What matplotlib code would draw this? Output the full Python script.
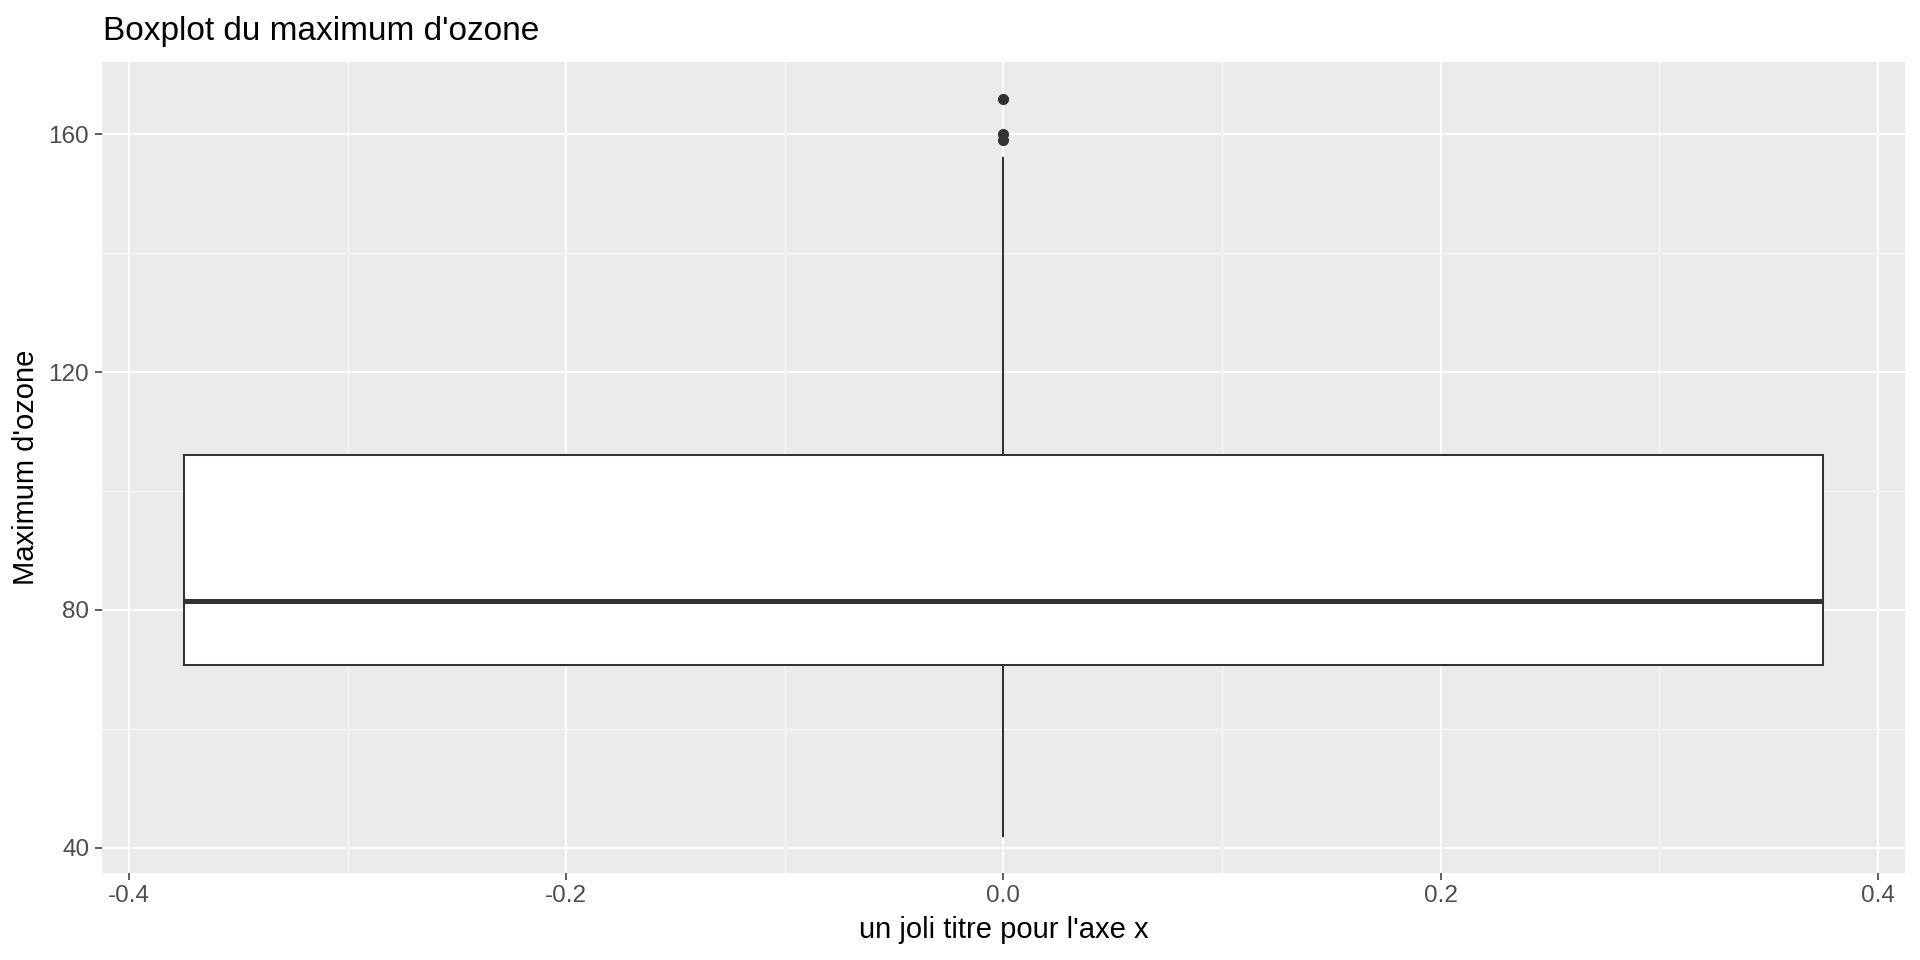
import matplotlib
matplotlib.use("Agg")
import matplotlib.pyplot as plt
import numpy as np

# summary of maxO3 (ozone data)
q1 = 70.75
median = 81.5
q3 = 106.0
whisker_low = 42.0
whisker_high = 156.0
outliers = [166.0, 160.0, 159.0]

x_ticks = [-0.4, -0.2, 0.0, 0.2, 0.4]
x_minor = [-0.3, -0.1, 0.1, 0.3]
y_ticks = [40, 80, 120, 160]
y_minor = [60, 100, 140]

plt.rcParams['font.family'] = ['Liberation Sans', 'DejaVu Sans']

fig = plt.figure(figsize=(19.2, 9.6), dpi=100)
L, R = 101.7 / 1920, 1905 / 1920
B, T = 1 - 872.7 / 960, 1 - 61.7 / 960
ax = fig.add_axes([L, B, R - L, T - B])
ax.set_facecolor('#EBEBEB')

stats = [dict(q1=q1, med=median, q3=q3, whislo=whisker_low,
              whishi=whisker_high, fliers=outliers)]
ax.bxp(stats, positions=[0], widths=0.75, showcaps=False, patch_artist=True,
       boxprops=dict(facecolor='white', edgecolor='#333333', linewidth=1.45),
       medianprops=dict(color='#333333', linewidth=3.6, solid_capstyle='butt'),
       whiskerprops=dict(color='#333333', linewidth=1.45),
       flierprops=dict(marker='o', markerfacecolor='#333333',
                       markeredgecolor='#333333', markersize=7))

ax.set_xlim(-0.4125, 0.4125)
ax.set_ylim(35.8, 172.2)
ax.set_xticks(x_ticks)
ax.set_xticklabels(['-0.4', '-0.2', '0.0', '0.2', '0.4'])
ax.set_xticks(x_minor, minor=True)
ax.set_yticks(y_ticks)
ax.set_yticks(y_minor, minor=True)

ax.set_axisbelow(True)
ax.grid(which='major', color='white', linewidth=1.5)
ax.grid(which='minor', color='white', linewidth=0.75)
for s in ax.spines.values():
    s.set_visible(False)
ax.tick_params(which='major', length=5, width=1.1, color='#333333',
               labelcolor='#4D4D4D', labelsize=17.5, pad=4)
ax.tick_params(which='minor', length=0)

fig.text(103.3 / 1920, 1 - 40 / 960, "Boxplot du maximum d'ozone",
         fontsize=24, ha='left', va='baseline', color='black')
fig.text((L + R) / 2, 1 - 938 / 960, "un joli titre pour l'axe x",
         fontsize=21, ha='center', va='baseline', color='black')
fig.text(26 / 1920, (B + T) / 2, "Maximum d'ozone", fontsize=21,
         rotation=90, ha='center', va='center', color='black')

fig.savefig('out.png', dpi=100)
